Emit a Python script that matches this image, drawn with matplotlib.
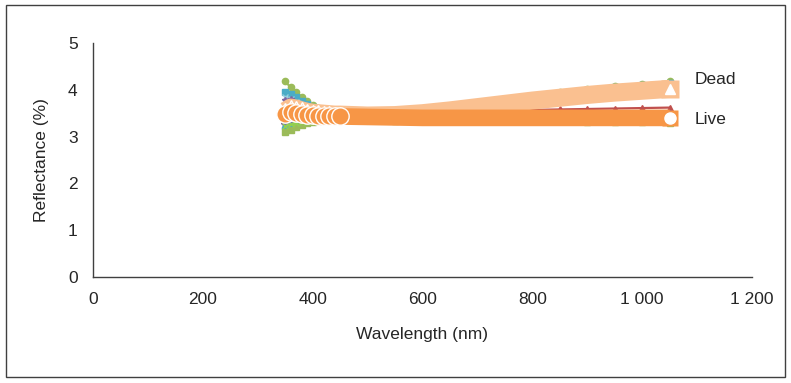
import matplotlib
matplotlib.use("Agg")
import matplotlib.pyplot as plt
from matplotlib.patches import Rectangle
from matplotlib.ticker import FuncFormatter

plt.rcParams['font.family'] = ['Liberation Sans', 'DejaVu Sans']

# ---- data ----
wavelength = [350, 360, 370, 380, 390, 400, 410, 420, 430, 440, 450,
              500, 550, 600, 650, 700, 750, 800, 850, 900, 950, 1000, 1050]

dead_mean = [3.55, 3.62, 3.60, 3.56, 3.53, 3.51, 3.50, 3.49, 3.48, 3.47, 3.47,
             3.45, 3.46, 3.50, 3.56, 3.63, 3.70, 3.77, 3.83, 3.89, 3.94, 3.98, 4.02]
live_mean = [3.48, 3.52, 3.50, 3.48, 3.47, 3.46, 3.45, 3.45, 3.44, 3.44, 3.43,
             3.42, 3.41, 3.40, 3.40, 3.40, 3.40, 3.40, 3.40, 3.40, 3.40, 3.40, 3.40]

dead_samples = {
    'd1': [4.18, 4.05, 3.95, 3.85, 3.75, 3.68, 3.62, 3.58, 3.56, 3.54, 3.53,
           3.50, 3.51, 3.56, 3.63, 3.71, 3.79, 3.87, 3.95, 4.02, 4.08, 4.13, 4.18],
    'd2': [3.95, 3.90, 3.85, 3.77, 3.70, 3.64, 3.60, 3.57, 3.55, 3.53, 3.52,
           3.49, 3.50, 3.55, 3.61, 3.69, 3.77, 3.85, 3.92, 3.99, 4.05, 4.10, 4.14],
    'd3': [3.30, 3.32, 3.35, 3.38, 3.40, 3.41, 3.42, 3.42, 3.42, 3.42, 3.42,
           3.41, 3.42, 3.46, 3.52, 3.59, 3.66, 3.73, 3.79, 3.84, 3.88, 3.92, 3.95],
    'd4': [3.70, 3.75, 3.72, 3.66, 3.61, 3.57, 3.55, 3.53, 3.52, 3.51, 3.50,
           3.48, 3.48, 3.50, 3.52, 3.54, 3.56, 3.57, 3.58, 3.59, 3.60, 3.61, 3.62],
    'd5': [3.85, 3.80, 3.74, 3.68, 3.63, 3.58, 3.55, 3.53, 3.51, 3.50, 3.49,
           3.46, 3.47, 3.52, 3.59, 3.67, 3.75, 3.83, 3.90, 3.97, 4.03, 4.08, 4.12],
    'd6': [3.60, 3.66, 3.62, 3.57, 3.54, 3.52, 3.51, 3.50, 3.49, 3.48, 3.48,
           3.46, 3.45, 3.45, 3.45, 3.45, 3.45, 3.45, 3.45, 3.45, 3.46, 3.46, 3.47],
}
live_samples = {
    'l1': [3.18, 3.22, 3.26, 3.30, 3.33, 3.35, 3.36, 3.36, 3.37, 3.37, 3.37,
           3.36, 3.35, 3.34, 3.34, 3.34, 3.34, 3.34, 3.34, 3.34, 3.33, 3.33, 3.32],
    'l2': [3.10, 3.15, 3.20, 3.25, 3.29, 3.32, 3.34, 3.35, 3.35, 3.36, 3.36,
           3.35, 3.34, 3.33, 3.33, 3.33, 3.33, 3.33, 3.33, 3.32, 3.32, 3.31, 3.28],
    'l3': [3.40, 3.45, 3.42, 3.40, 3.40, 3.40, 3.40, 3.40, 3.40, 3.40, 3.40,
           3.39, 3.38, 3.38, 3.38, 3.38, 3.38, 3.38, 3.38, 3.38, 3.38, 3.37, 3.37],
    'l4': [3.62, 3.70, 3.65, 3.59, 3.55, 3.53, 3.51, 3.50, 3.49, 3.48, 3.48,
           3.46, 3.45, 3.45, 3.45, 3.45, 3.45, 3.46, 3.46, 3.46, 3.46, 3.47, 3.48],
    'l5': [3.22, 3.26, 3.29, 3.32, 3.35, 3.36, 3.37, 3.38, 3.38, 3.38, 3.38,
           3.37, 3.37, 3.36, 3.36, 3.36, 3.36, 3.35, 3.35, 3.35, 3.35, 3.35, 3.34],
    'l6': [3.78, 3.80, 3.72, 3.65, 3.60, 3.56, 3.54, 3.52, 3.51, 3.50, 3.49,
           3.47, 3.46, 3.46, 3.46, 3.46, 3.46, 3.46, 3.46, 3.47, 3.47, 3.48, 3.50],
}

x_ticks = [0, 200, 400, 600, 800, 1000, 1200]
y_ticks = [0, 1, 2, 3, 4, 5]

# ---- styles ----
dead_colors = ['#9BBB59', '#4BACC6', '#8064A2', '#C0504D', '#93CDDD', '#B7A0CD']
live_colors = ['#4BACC6', '#9BBB59', '#4F81BD', '#C0504D', '#92D050', '#8064A2']
markers = ['o', 's', 'D', '^', 'x', '*']
dead_fill = '#FAC090'
live_fill = '#F79646'

fig = plt.figure(figsize=(7.91, 3.83), dpi=100)
ax = fig.add_axes([93/791, 1-277/383, (752-93)/791, (277-43)/383])

for i, (k, vals) in enumerate(dead_samples.items()):
    ax.plot(wavelength, vals, color=dead_colors[i], lw=1.6, marker=markers[i],
            ms=4.5, mew=1.0, zorder=2)
for i, (k, vals) in enumerate(live_samples.items()):
    ax.plot(wavelength, vals, color=live_colors[i], lw=1.6, marker=markers[i],
            ms=4.5, mew=1.0, zorder=2)

# mean spectra as thick bands
ax.plot(wavelength, dead_mean, color=dead_fill, lw=13, solid_capstyle='butt', zorder=3)
ax.plot(wavelength[-1:], dead_mean[-1:], ls='none', marker='s', ms=13,
        mfc=dead_fill, mec='none', zorder=3)
ax.plot(wavelength[:11], dead_mean[:11], ls='none', marker='^', ms=12,
        mfc=dead_fill, mec='white', mew=1.0, zorder=3)
ax.plot(wavelength, live_mean, color=live_fill, lw=12, solid_capstyle='butt', zorder=4)
ax.plot(wavelength[-1:], live_mean[-1:], ls='none', marker='s', ms=12,
        mfc=live_fill, mec='none', zorder=4)
ax.plot(wavelength[:11], live_mean[:11], ls='none', marker='o', ms=12.5,
        mfc=live_fill, mec='white', mew=1.0, zorder=4)
ax.plot(wavelength[-1:], dead_mean[-1:], ls='none', marker='^', ms=7,
        color='white', zorder=5)
ax.plot(wavelength[-1:], live_mean[-1:], ls='none', marker='o', ms=8,
        color='white', zorder=5)

ax.text(1096, 4.21, 'Dead', fontsize=12.5, color='#262626', va='center', ha='left')
ax.text(1096, 3.36, 'Live', fontsize=12.5, color='#262626', va='center', ha='left')

ax.set_xlim(0, 1200)
ax.set_ylim(0, 5)
ax.set_xticks(x_ticks)
ax.set_yticks(y_ticks)
ax.xaxis.set_major_formatter(FuncFormatter(lambda v, p: f"{int(v):,}".replace(',', ' ')))
ax.tick_params(length=0, labelsize=12.5, labelcolor='#262626')
ax.tick_params(axis='x', pad=11)
ax.tick_params(axis='y', pad=11)
for s in ['top', 'right']:
    ax.spines[s].set_visible(False)
for s in ['left', 'bottom']:
    ax.spines[s].set_color('#404040')
    ax.spines[s].set_linewidth(1)

ax.set_xlabel('Wavelength (nm)', fontsize=12.5, color='#262626', labelpad=14)
ax.set_ylabel('Reflectance (%)', fontsize=12.5, color='#262626', labelpad=14)

fig.patches.append(Rectangle((6/791, 1-377/383), (785-6)/791, (377-5)/383,
                             transform=fig.transFigure, fill=False,
                             edgecolor='#404040', lw=1))

fig.savefig('out.png', dpi=100)
